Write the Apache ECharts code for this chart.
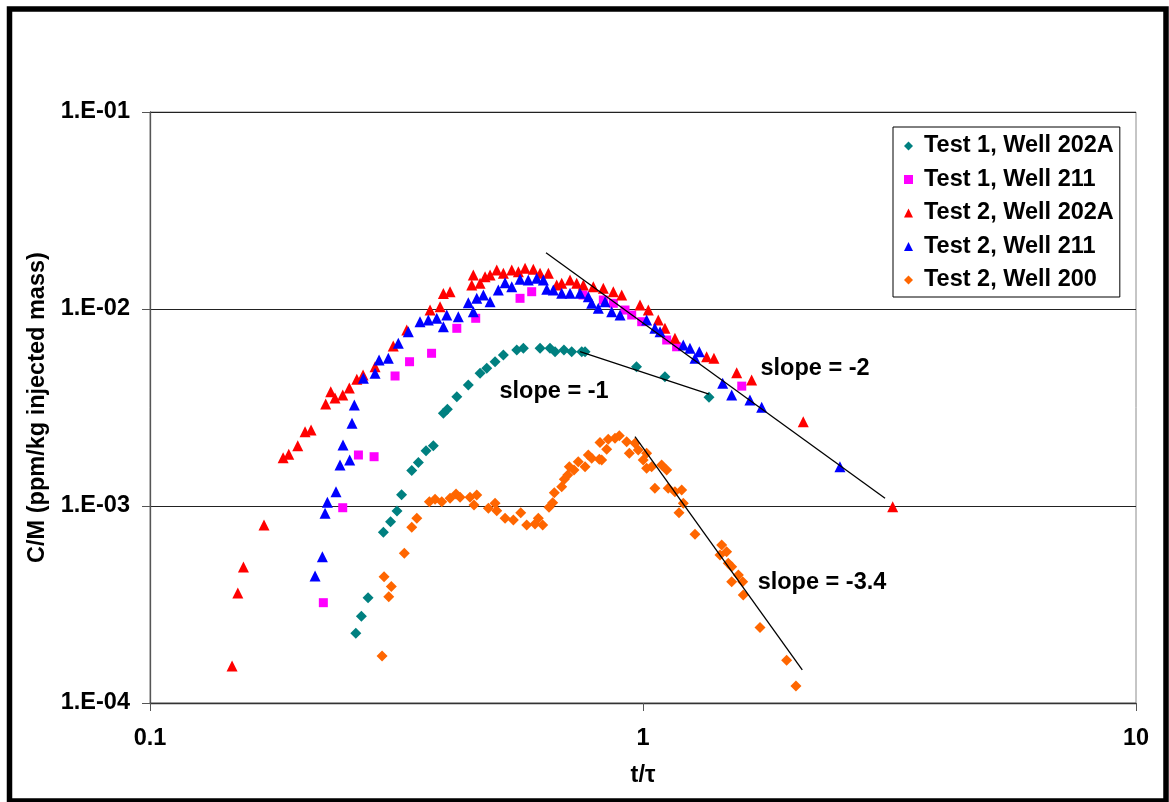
<!DOCTYPE html>
<html>
<head>
<meta charset="utf-8">
<script src="https://cdn.jsdelivr.net/npm/echarts@6/dist/echarts.min.js"></script>
<style>
html,body{margin:0;padding:0;background:#fff;}
#chart{width:1169px;height:802px;}
</style>
</head>
<body>
<div id="chart"></div>
<script>
// ---- Data (t/tau, C/M) ----
const test1Well202A = [
  [0.2615,2.26e-4],[0.2684,2.76e-4],[0.2769,3.42e-4],[0.2974,7.35e-4],[0.3076,8.32e-4],
  [0.3170,9.43e-4],[0.3238,1.141e-3],[0.3396,1.514e-3],[0.3502,1.663e-3],[0.3630,1.909e-3],
  [0.3756,2.02e-3],[0.3936,2.96e-3],[0.4010,3.10e-3],[0.4191,3.59e-3],[0.4422,4.11e-3],
  [0.4672,4.72e-3],[0.4820,5.00e-3],[0.5011,5.40e-3],[0.5209,5.84e-3],[0.5545,6.19e-3],
  [0.5719,6.32e-3],[0.6183,6.32e-3],[0.6477,6.32e-3],[0.6632,6.07e-3],[0.6913,6.19e-3],
  [0.7168,6.07e-3],[0.7512,6.07e-3],[0.7629,6.07e-3],[0.970,5.09e-3],[1.108,4.53e-3],
  [1.361,3.56e-3]
];
const test1Well211 = [
  [0.2247,3.23e-4],[0.2460,9.80e-4],[0.2647,1.815e-3],[0.2848,1.779e-3],[0.3141,4.57e-3],
  [0.3361,5.40e-3],[0.3725,5.96e-3],[0.4191,7.98e-3],[0.4578,8.97e-3],[0.5631,1.133e-2],
  [0.5946,1.224e-2],[0.7557,1.178e-2],[0.8309,1.111e-2],[0.8705,1.069e-2],[0.9194,9.88e-3],
  [0.9486,9.32e-3],[0.994,8.62e-3],[1.117,6.96e-3],[1.170,6.43e-3],[1.586,4.06e-3]
];
const test2Well202A = [
  [0.1467,1.54e-4],[0.1507,3.62e-4],[0.1547,4.90e-4],[0.1703,8.01e-4],[0.1862,1.76e-3],
  [0.1912,1.83e-3],[0.1994,2.02e-3],[0.2063,2.38e-3],[0.2122,2.43e-3],[0.2272,3.29e-3],
  [0.2326,3.80e-3],[0.2373,3.53e-3],[0.2460,3.66e-3],[0.2537,3.97e-3],[0.2627,4.40e-3],
  [0.2705,4.62e-3],[0.2861,5.09e-3],[0.3115,6.49e-3],[0.3317,7.82e-3],[0.3699,9.89e-3],
  [0.3876,1.027e-2],[0.3936,1.20e-2],[0.4061,1.224e-2],[0.4494,1.323e-2],[0.4527,1.488e-2],
  [0.4672,1.350e-2],[0.4783,1.459e-2],[0.4895,1.488e-2],[0.5050,1.578e-2],[0.5209,1.517e-2],
  [0.5417,1.578e-2],[0.5587,1.546e-2],[0.5765,1.609e-2],[0.5992,1.590e-2],[0.6183,1.517e-2],
  [0.6427,1.517e-2],[0.6683,1.323e-2],[0.6841,1.350e-2],[0.7112,1.404e-2],[0.7337,1.350e-2],
  [0.7568,1.323e-2],[0.7929,1.297e-2],[0.8309,1.273e-2],[0.8705,1.224e-2],[0.9054,1.178e-2],
  [0.986,1.048e-2],[1.025,9.88e-3],[1.074,8.79e-3],[1.108,7.98e-3],[1.161,7.10e-3],
  [1.346,5.73e-3],[1.393,5.62e-3],[1.549,4.75e-3],[1.661,4.36e-3],[2.114,2.68e-3],
  [3.210,9.92e-4]
];
const test2Well211 = [
  [0.2162,4.41e-4],[0.2237,5.53e-4],[0.2265,9.18e-4],[0.2290,1.044e-3],[0.2384,1.182e-3],
  [0.2429,1.614e-3],[0.2463,2.04e-3],[0.2541,1.712e-3],[0.2569,2.63e-3],[0.2597,3.26e-3],
  [0.2709,4.45e-3],[0.2861,4.72e-3],[0.2915,5.51e-3],[0.3044,5.62e-3],[0.3189,6.70e-3],
  [0.3342,7.67e-3],[0.3529,8.62e-3],[0.3669,8.79e-3],[0.3816,8.97e-3],[0.3936,8.13e-3],
  [0.3999,9.32e-3],[0.4221,9.14e-3],[0.4422,1.076e-2],[0.4527,9.69e-3],[0.4600,1.133e-2],
  [0.4745,1.178e-2],[0.4895,1.089e-2],[0.5088,1.248e-2],[0.5250,1.360e-2],[0.5417,1.297e-2],
  [0.5631,1.415e-2],[0.5852,1.404e-2],[0.6086,1.431e-2],[0.6279,1.404e-2],[0.6379,1.259e-2],
  [0.6578,1.248e-2],[0.6841,1.202e-2],[0.7112,1.202e-2],[0.7452,1.202e-2],[0.7745,1.155e-2],
  [0.7870,1.069e-2],[0.8116,1.008e-2],[0.8376,1.089e-2],[0.8640,9.69e-3],[0.8983,9.32e-3],
  [1.017,8.79e-3],[1.057,7.98e-3],[1.083,7.67e-3],[1.207,6.57e-3],[1.245,6.32e-3],
  [1.275,5.62e-3],[1.301,6.07e-3],[1.451,4.20e-3],[1.513,3.66e-3],[1.648,3.45e-3],
  [1.741,3.17e-3],[2.509,1.583e-3]
];
const test2Well200 = [
  [0.2956,1.73e-4],[0.2984,4.38e-4],[0.3050,3.46e-4],[0.3087,3.90e-4],[0.3280,5.75e-4],
  [0.3396,7.79e-4],[0.3477,8.66e-4],[0.3687,1.051e-3],[0.3786,1.081e-3],[0.3906,1.051e-3],
  [0.4061,1.094e-3],[0.4176,1.150e-3],[0.4255,1.107e-3],[0.4457,1.107e-3],[0.4541,1.012e-3],
  [0.4600,1.137e-3],[0.4857,9.73e-4],[0.5011,1.032e-3],[0.5050,9.46e-4],[0.5250,8.66e-4],
  [0.5458,8.49e-4],[0.5649,9.25e-4],[0.5809,8.01e-4],[0.6039,8.10e-4],[0.6133,8.66e-4],
  [0.6260,8.01e-4],[0.6447,9.85e-4],[0.6559,1.039e-3],[0.6609,1.168e-3],[0.6841,1.253e-3],
  [0.6925,1.366e-3],[0.7036,1.437e-3],[0.7088,1.583e-3],[0.7245,1.523e-3],[0.7391,1.679e-3],
  [0.7629,1.583e-3],[0.7745,1.815e-3],[0.7870,1.746e-3],[0.8155,1.726e-3],[0.8181,2.10e-3],
  [0.8246,1.712e-3],[0.8440,1.940e-3],[0.8503,2.18e-3],[0.8774,2.21e-3],[0.8952,2.27e-3],
  [0.9267,2.12e-3],[0.9380,1.851e-3],[0.9634,2.08e-3],[0.978,1.924e-3],[1.001,1.712e-3],
  [1.017,1.851e-3],[1.017,1.553e-3],[1.041,1.583e-3],[1.057,1.229e-3],[1.091,1.614e-3],
  [1.117,1.523e-3],[1.125,1.229e-3],[1.161,1.182e-3],[1.198,1.206e-3],[1.207,1.032e-3],
  [1.183,9.25e-4],[1.275,7.18e-4],[1.433,5.64e-4],[1.444,6.34e-4],[1.478,5.86e-4],
  [1.489,5.12e-4],[1.513,4.92e-4],[1.513,4.13e-4],[1.561,4.46e-4],[1.593,4.13e-4],
  [1.597,3.53e-4],[1.727,2.42e-4],[1.956,1.65e-4],[2.043,1.22e-4]
];
// Fitted slope lines (endpoints)
const slopeLineMinus1 = [[0.7452,6.07e-3],[1.361,3.70e-3]];
const slopeLineMinus2 = [[0.6357,1.931e-2],[3.097,1.094e-3]];
const slopeLineMinus34 = [[0.9633,2.249e-3],[2.104,1.471e-4]];
// Annotation labels (anchored at data coordinates)
const annotationText = ['slope = -1','slope = -2','slope = -3.4'];
const annotationPos = [[0.660,3.79e-3],[2.233,4.96e-3],[2.307,4.11e-4]];
// Axis tick labels
const xTickValues = [0.1,1,10];
const xTickLabels = ['0.1','1','10'];
const yTickValues = [1e-4,1e-3,1e-2,1e-1];
const yTickLabels = ['1.E-04','1.E-03','1.E-02','1.E-01'];

const seriesNames = ['Test 1, Well 202A','Test 1, Well 211','Test 2, Well 202A','Test 2, Well 211','Test 2, Well 200'];
const seriesData = [test1Well202A,test1Well211,test2Well202A,test2Well211,test2Well200];
const seriesColors = ['#008080','#FF00FF','#FF0000','#0000FF','#FF6600'];
const seriesSymbols = ['diamond','rect','triangle','triangle','diamond'];
const seriesSizes = [11,9,11,11,11];

const FONT = '"Liberation Sans", Arial, Helvetica, sans-serif';
const FS = 23.5;

function labelFor(values, labels, v){
  for(let i=0;i<values.length;i++){ if(Math.abs(Math.log10(v)-Math.log10(values[i]))<1e-6) return labels[i]; }
  return '';
}

const chart = echarts.init(document.getElementById('chart'), null, {renderer:'canvas'});

const series = seriesNames.map((n,i)=>({
  name:n, type:'scatter', data:seriesData[i], symbol:seriesSymbols[i], symbolSize:seriesSizes[i],
  itemStyle:{color:seriesColors[i], opacity:1}, z:2+i, silent:true, animation:false
}));
[slopeLineMinus1, slopeLineMinus2, slopeLineMinus34].forEach((d,i)=>{
  series.push({name:'fit'+i, type:'line', data:d, symbol:'none', lineStyle:{color:'#000',width:1.3},
    z:10, silent:true, animation:false});
});
const annLabel = {show:true, position:'inside', color:'#000', opacity:1, textBorderWidth:0,
  fontFamily:FONT, fontWeight:'bold', fontSize:FS};
series.push({
  name:'annotations', type:'scatter', symbol:'circle', symbolSize:1, z:11, silent:true, animation:false,
  itemStyle:{color:'#fff', opacity:1},
  data: annotationPos.map((p,i)=>({value:p, label:Object.assign({}, annLabel, {formatter:annotationText[i]})})),
  label:annLabel
});

chart.setOption({
  backgroundColor:'#fff',
  animation:false,
  grid:{left:150, top:112, right:33, bottom:99, containLabel:false, outerBoundsMode:'none',
        show:true, borderColor:'#8c8c8c', borderWidth:1, backgroundColor:'transparent'},
  legend:{
    data:seriesNames.map((n,i)=>({name:n, icon:seriesSymbols[i]})),
    orient:'vertical', left:893, top:127,
    backgroundColor:'#fff', borderColor:'#000', borderWidth:1,
    padding:[6,6,4,11], itemGap:7.5, itemWidth:9, itemHeight:9,
    textStyle:{color:'#000', fontFamily:FONT, fontWeight:'bold', fontSize:FS, lineHeight:26, padding:[0,0,0,6]},
    selectedMode:false
  },
  xAxis:{
    type:'log', logBase:10, min:0.1, max:10,
    name:'t/\u03c4', nameLocation:'middle', nameGap:61,
    nameTextStyle:{color:'#000', fontFamily:FONT, fontWeight:'bold', fontSize:FS},
    axisLine:{show:true, onZero:false, lineStyle:{color:'#333', width:1.3}},
    axisTick:{show:true, inside:false, length:8, lineStyle:{color:'#555'}},
    minorTick:{show:false},
    splitLine:{show:false},
    axisLabel:{margin:24, color:'#000', fontFamily:FONT, fontWeight:'bold', fontSize:FS,
      formatter:v=>labelFor(xTickValues,xTickLabels,v)}
  },
  yAxis:{
    type:'log', logBase:10, min:1e-4, max:1e-1,
    name:'C/M (ppm/kg injected mass)', nameLocation:'middle', nameGap:100, nameRotate:90,
    nameTextStyle:{color:'#000', fontFamily:FONT, fontWeight:'bold', fontSize:FS},
    axisLine:{show:true, onZero:false, lineStyle:{color:'#555', width:1.3}},
    axisTick:{show:true, inside:false, length:8, lineStyle:{color:'#555'}},
    minorTick:{show:false},
    splitLine:{show:true, lineStyle:{color:'#222', width:1}},
    axisLabel:{margin:20, color:'#000', fontFamily:FONT, fontWeight:'bold', fontSize:FS,
      formatter:v=>labelFor(yTickValues,yTickLabels,v)}
  },
  graphic:[{
    type:'rect', silent:true, z:100,
    shape:{x:9.5, y:9, width:1156.5, height:792},
    style:{fill:'none', stroke:'#000', lineWidth:5.5}
  }],
  series:series
});
</script>
</body>
</html>
